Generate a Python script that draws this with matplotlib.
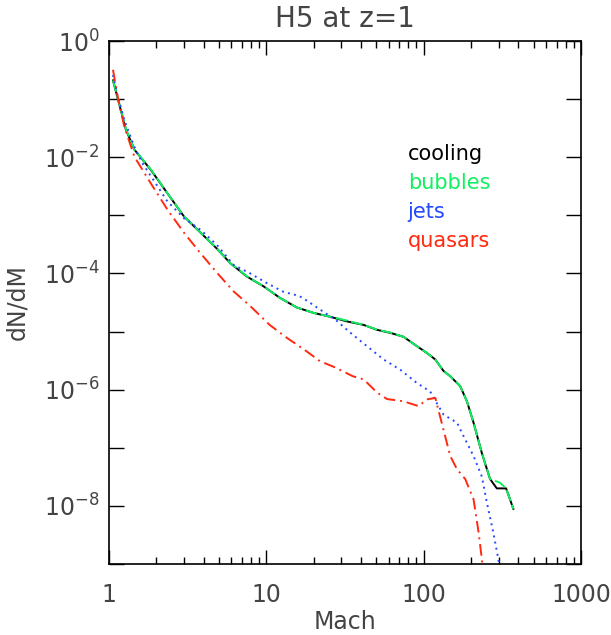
import matplotlib

matplotlib.use("Agg")
import matplotlib.pyplot as plt
from matplotlib.ticker import FixedLocator, FuncFormatter, NullLocator
import numpy as np


# values (Mach, dN/dM)
cooling_mach = [1.06, 1.135, 1.28, 1.45, 1.85, 2.35, 3.0, 3.83, 4.9, 5.9, 7.5, 9.6,
                12.2, 15.6, 19.9, 25.4, 32.4, 41.6, 50.6, 61.4, 74.6, 90.6, 104.7,
                118.6, 133.7, 147.6, 170.6, 188.4, 207.5, 234.4, 264.2, 291.7, 334.2, 371.5]
cooling_dndm = [0.21, 0.104, 0.030, 0.0135, 6.0e-3, 2.4e-3, 9.5e-4, 5.0e-4, 2.6e-4, 1.5e-4,
                8.9e-5, 6.0e-5, 3.8e-5, 2.6e-5, 2.1e-5, 1.8e-5, 1.5e-5, 1.3e-5, 1.07e-5,
                9.5e-6, 8.1e-6, 5.6e-6, 4.3e-6, 3.3e-6, 2.1e-6, 1.7e-6, 1.15e-6, 6.3e-7,
                2.7e-7, 8.1e-8, 2.9e-8, 2.0e-8, 2.0e-8, 8.9e-9]

bubbles_mach = [1.06, 1.135, 1.28, 1.45, 1.85, 2.35, 3.0, 3.83, 4.9, 5.9, 7.5, 9.6,
                12.2, 15.6, 19.9, 25.4, 32.4, 41.6, 50.6, 61.4, 74.6, 90.6, 104.7,
                118.6, 133.7, 147.6, 170.6, 188.4, 207.5, 234.4, 264.2, 306.0, 334.2, 371.5]
bubbles_dndm = [0.21, 0.106, 0.031, 0.0136, 6.1e-3, 2.4e-3, 9.6e-4, 5.0e-4, 2.6e-4, 1.5e-4,
                9.0e-5, 6.0e-5, 3.8e-5, 2.6e-5, 2.1e-5, 1.8e-5, 1.55e-5, 1.3e-5, 1.08e-5,
                9.6e-6, 8.1e-6, 5.6e-6, 4.3e-6, 3.3e-6, 2.1e-6, 1.7e-6, 1.15e-6, 6.3e-7,
                2.7e-7, 8.1e-8, 2.9e-8, 2.5e-8, 2.0e-8, 8.9e-9]

jets_mach = [1.06, 1.125, 1.25, 1.45, 1.63, 1.85, 2.35, 3.0, 3.83, 4.9, 6.2, 7.9, 10.0,
             12.9, 16.2, 17.8, 21.9, 27.5, 34.3, 43.6, 55.7, 71.1, 90.6, 110, 121, 134,
             163, 179, 207.5, 234.4, 252, 277, 298.5, 316]
jets_dndm = [0.26, 0.126, 0.044, 0.015, 7.9e-3, 4.7e-3, 1.74e-3, 8.9e-4, 5.6e-4, 3.0e-4,
             1.4e-4, 1.0e-4, 6.9e-5, 4.8e-5, 4.1e-5, 3.5e-5, 2.4e-5, 1.6e-5, 9.5e-6, 5.6e-6,
             3.3e-6, 2.2e-6, 1.3e-6, 9.3e-7, 5.9e-7, 3.7e-7, 2.7e-7, 1.6e-7, 7.2e-8, 3.2e-8,
             1.15e-8, 3.5e-9, 1.2e-9, 5e-10]

quasars_mach = [1.06, 1.135, 1.25, 1.45, 1.85, 2.35, 3.0, 3.83, 4.9, 6.2, 7.9, 10.5, 13.5,
                17.4, 21.9, 27.5, 35.5, 41.6, 50.6, 58.5, 74.6, 92.9, 104.7, 118.6, 127,
                147.6, 162.6, 183.7, 207.5, 223.4, 234.4, 243]
quasars_dndm = [0.32, 0.11, 0.034, 0.0102, 3.5e-3, 1.26e-3, 5.0e-4, 2.2e-4, 1.0e-4, 4.9e-5,
                2.75e-5, 1.3e-5, 7.8e-6, 4.9e-6, 3.1e-6, 2.4e-6, 1.7e-6, 1.5e-6, 8.9e-7,
                6.9e-7, 6.3e-7, 5.2e-7, 6.8e-7, 7.2e-7, 3.5e-7, 7.2e-8, 4.3e-8, 2.9e-8,
                1.3e-8, 3.5e-9, 1.2e-9, 5e-10]

x_ticks = [1, 10, 100, 1000]
x_labels = ["1", "10", "100", "1000"]
y_exponents = list(range(-9, 1))

series = [
    ("cooling", cooling_mach, cooling_dndm, "black", "-"),
    ("bubbles", bubbles_mach, bubbles_dndm, "#10f060", (0, (6, 2))),
    ("jets", jets_mach, jets_dndm, "#2448ff", (0, (1, 2.2))),
    ("quasars", quasars_mach, quasars_dndm, "#ff2a10", (0, (6, 2.5, 1, 2.5))),
]

plt.rcParams["font.family"] = ["DejaVu Sans"]
plt.rcParams["mathtext.default"] = "regular"
text_color = "#444444"

fig = plt.figure(figsize=(6.11, 6.35), dpi=100)
ax = fig.add_axes([109 / 611, 1 - 564 / 635, 472 / 611, 523 / 635])

for name, mach, dndm, color, style in series:
    ax.plot(mach, dndm, color=color, linestyle=style, linewidth=1.4)

ax.set_xscale("log")
ax.set_yscale("log")
ax.set_xlim(1, 1000)
ax.set_ylim(1e-9, 1)

ax.xaxis.set_major_locator(FixedLocator(x_ticks))
ax.xaxis.set_major_formatter(FuncFormatter(lambda v, p: x_labels[x_ticks.index(round(v))]
                                           if round(v) in x_ticks else ""))
minor_x = [m * d for d in (1, 10, 100) for m in range(2, 10)]
ax.xaxis.set_minor_locator(FixedLocator(minor_x))

ax.yaxis.set_major_locator(FixedLocator([10.0 ** e for e in y_exponents]))
ax.yaxis.set_major_formatter(FuncFormatter(
    lambda v, p: f"$10^{{{int(round(np.log10(v)))}}}$" if int(round(np.log10(v))) % 2 == 0 else ""))
ax.yaxis.set_minor_locator(NullLocator())

ax.tick_params(which="both", direction="in", top=True, right=True, colors="black",
               labelcolor=text_color, labelsize=17)
ax.tick_params(axis="x", which="major", length=10, width=1, pad=14)
ax.tick_params(axis="x", which="minor", length=5, width=1)
ax.tick_params(axis="y", which="major", length=11, width=1, pad=7)
for spine in ax.spines.values():
    spine.set_linewidth(1.2)

ax.set_xlabel("Mach", fontsize=17, color=text_color, labelpad=2)
ax.set_ylabel("dN/dM", fontsize=17, color=text_color, labelpad=10)
ax.set_title("H5 at z=1", fontsize=20, color=text_color, pad=10)

for i, (name, mach, dndm, color, style) in enumerate(series):
    ax.text(0.633, 0.772 - i * 0.055, name, transform=ax.transAxes, color=color,
            fontsize=15, va="baseline", ha="left")

fig.savefig("out.png", dpi=100)
